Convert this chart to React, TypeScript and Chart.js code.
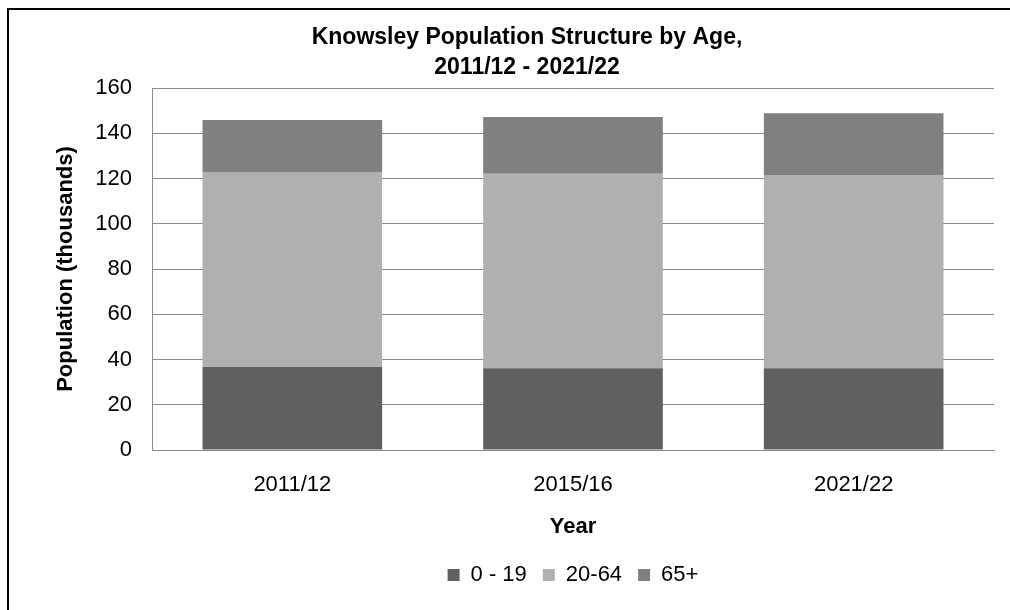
import React, { useEffect, useRef } from "react";
import { Chart, registerables } from "chart.js";

Chart.register(...registerables);

// ---- data ----
const categories = ["2011/12", "2015/16", "2021/22"];
const seriesNames = ["0 - 19", "20-64", "65+"];
const age0to19 = [36.7, 36.1, 36.1];
const age20to64 = [86.2, 86.0, 85.4];
const age65plus = [23.0, 25.1, 27.3];
const seriesColors = ["#606060", "#b0b0b0", "#808080"];
const titleLines = ["Knowsley Population Structure by Age,", "2011/12 - 2021/22"];
const yAxisTitle = "Population (thousands)";
const xAxisTitle = "Year";
const yMin = 0;
const yMax = 160;
const yStep = 20;

const FONT = "'Liberation Sans', Arial, sans-serif";
const GRID = "#8a8a8a";

const frameTitlePlugin = {
  id: "frameTitle",
  beforeDraw(chart: any) {
    const ctx = chart.ctx;
    ctx.save();
    ctx.fillStyle = "#ffffff";
    ctx.fillRect(0, 0, chart.width, chart.height);
    ctx.restore();
  },
  afterDraw(chart: any) {
    const ctx = chart.ctx;
    ctx.save();
    ctx.strokeStyle = "#000";
    ctx.lineWidth = 2;
    ctx.beginPath();
    ctx.moveTo(8, chart.height + 20);
    ctx.lineTo(8, 9);
    ctx.lineTo(chart.width + 20, 9);
    ctx.stroke();
    ctx.fillStyle = "#000";
    ctx.font = `bold 23px ${FONT}`;
    ctx.textAlign = "center";
    ctx.textBaseline = "middle";
    titleLines.forEach((line, i) => {
      ctx.fillText(line, 527, 38 + i * 29.5);
    });
    ctx.restore();
  },
};

export default function App() {
  const ref = useRef<HTMLCanvasElement | null>(null);
  useEffect(() => {
    if (!ref.current) return;
    const seriesValues = [age0to19, age20to64, age65plus];
    const chart = new Chart(ref.current, {
      type: "bar",
      data: {
        labels: categories,
        datasets: seriesNames.map((name, i) => ({
          label: name,
          data: seriesValues[i],
          backgroundColor: seriesColors[i],
          borderWidth: 0,
          barPercentage: 0.64,
          categoryPercentage: 1,
        })),
      },
      options: {
        responsive: false,
        animation: false,
        layout: { padding: { top: 88, left: 0, right: 16, bottom: 14 } },
        plugins: {
          title: { display: false },
          tooltip: { enabled: false },
          legend: {
            position: "bottom",
            fullSize: false,
            labels: {
              boxWidth: 12,
              boxHeight: 12,
              padding: 16,
              color: "#000",
              font: { family: FONT, size: 22 },
            },
          },
        },
        scales: {
          x: {
            stacked: true,
            grid: { display: false, drawTicks: false },
            border: { display: true, color: GRID, width: 1 },
            ticks: { color: "#000", padding: 22, font: { family: FONT, size: 22 } },
            title: {
              display: true,
              text: xAxisTitle,
              color: "#000",
              font: { family: FONT, size: 22, weight: "bold" },
              padding: { top: 0, bottom: 8 },
            },
            afterFit: (s: any) => {
              s.height = 98;
            },
          },
          y: {
            stacked: true,
            min: yMin,
            max: yMax,
            ticks: { stepSize: yStep, color: "#000", padding: 20, font: { family: FONT, size: 22 } },
            grid: { color: GRID, lineWidth: 1, drawTicks: false },
            border: { display: true, color: GRID, width: 1 },
            title: {
              display: true,
              text: yAxisTitle,
              color: "#000",
              font: { family: FONT, size: 22, weight: "bold" },
              padding: { top: 53, bottom: 0 },
            },
            afterFit: (s: any) => {
              s.width = 152;
            },
          },
        },
      } as any,
      plugins: [frameTitlePlugin],
    });
    return () => chart.destroy();
  }, []);
  return (
    <div style={{ position: "fixed", left: 0, top: 0, width: 1010, height: 610, background: "#fff" }}>
      <canvas ref={ref} width={1010} height={610} style={{ display: "block" }} />
    </div>
  );
}
